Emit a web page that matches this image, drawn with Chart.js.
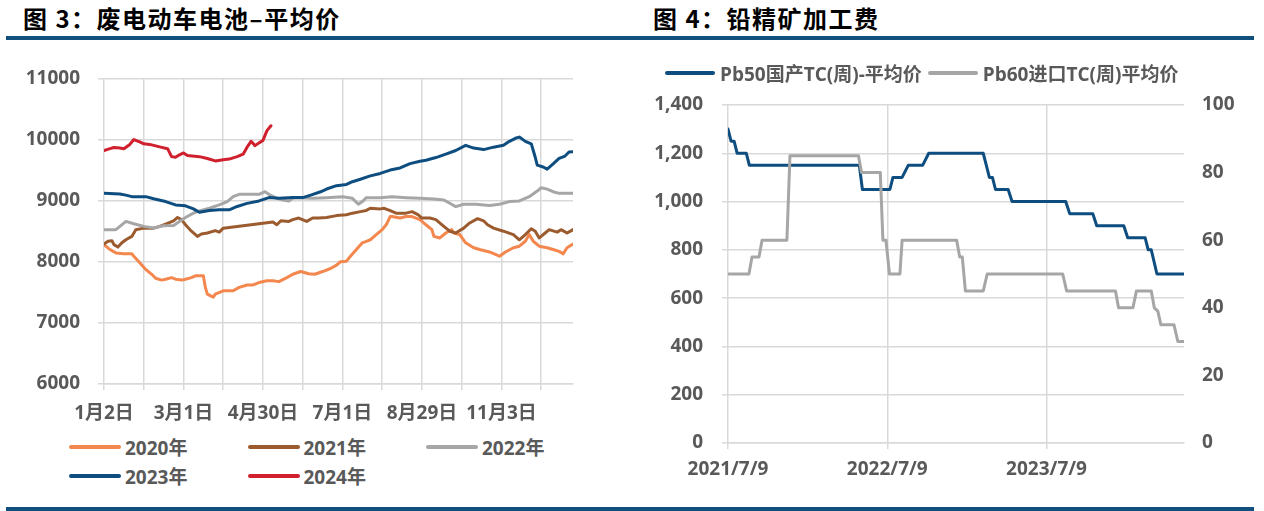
<!DOCTYPE html>
<html>
<head>
<meta charset="utf-8">
<script src="https://cdn.jsdelivr.net/npm/chart.js@4.4.1/dist/chart.umd.min.js"></script>
<style>
body { margin: 0; width: 1264px; height: 511px; overflow: hidden; background: #fff; position: relative; }
.title { position: absolute; top: 6px; font: bold 24px/24px "Noto Sans CJK SC", sans-serif; color: #000; letter-spacing: 1.5px; white-space: nowrap; }
.rule { position: absolute; left: 6px; width: 1248px; height: 4px; background: #114f7c; }
canvas { position: absolute; }
.legend { position: absolute; font: bold 19px "Open Sans", "Noto Sans CJK SC", sans-serif; color: #595959; }
.legend .item { display: flex; align-items: center; white-space: nowrap; height: 29px; }
.legend .swatch { display: inline-block; height: 4px; border-radius: 2px; }
#legL { left: 69px; top: 432px; display: grid; grid-template-columns: repeat(3, 178.5px); }
#legR { left: 665px; top: 58px; display: flex; }
</style>
</head>
<body>
<div class="title" style="left:23px">图 3：废电动车电池–平均价</div>
<div class="title" style="left:653px">图 4：铅精矿加工费</div>
<div class="rule" style="top:36px"></div>
<div class="rule" style="top:507px"></div>

<canvas id="chartL" width="600" height="380" style="left:0;top:49px;width:600px;height:380px"></canvas>
<div class="legend" id="legL"></div>

<canvas id="chartR" width="624" height="455" style="left:640px;top:45px;width:624px;height:455px"></canvas>
<div class="legend" id="legR"></div>

<script>
// ==========================================
// 1. DATA - left chart (trading-day index within year, price)
// ==========================================
const L_GRID = [0, 20, 40, 60, 80, 100, 120, 140, 160, 180, 200, 220];
const L_TICK_POS = [0, 40, 80, 120, 160, 200];
const L_TICK_LABELS = ['1月2日', '3月1日', '4月30日', '7月1日', '8月29日', '11月3日'];
const L_LAST = 236;
const YEAR_NAMES = ['2020年', '2021年', '2022年', '2023年', '2024年'];

const S2020 = [[0,8280],[3,8200],[6,8145],[10,8130],[14,8130],[15,8090],[18,7985],[21,7875],[24,7795],[26,7730],[29,7700],[31,7715],[34,7740],[36,7715],[39,7700],[41,7715],[44,7740],[46,7770],[50,7770],[51,7580],[52,7470],[55,7420],[56,7470],[60,7525],[65,7525],[68,7580],[72,7620],[75,7620],[78,7660],[82,7690],[85,7690],[88,7675],[92,7740],[95,7795],[99,7840],[103,7805],[106,7795],[110,7840],[114,7890],[117,7945],[119,8000],[122,8010],[124,8090],[127,8200],[130,8310],[132,8335],[134,8360],[137,8445],[140,8525],[142,8605],[144,8740],[145,8740],[149,8715],[152,8740],[155,8740],[159,8690],[162,8605],[165,8525],[166,8415],[169,8390],[172,8470],[175,8525],[176,8470],[179,8445],[182,8310],[186,8230],[189,8200],[194,8160],[197,8120],[199,8090],[202,8160],[206,8230],[209,8255],[212,8335],[214,8445],[216,8335],[219,8255],[223,8230],[226,8200],[229,8170],[231,8130],[233,8230],[236,8290]];

const S2021 = [[0,8290],[2,8335],[4,8345],[5,8280],[7,8240],[9,8310],[11,8360],[14,8415],[16,8525],[20,8550],[25,8550],[28,8580],[31,8615],[35,8670],[37,8725],[39,8690],[41,8605],[44,8500],[47,8415],[49,8455],[52,8470],[56,8510],[58,8485],[60,8550],[85,8650],[87,8605],[89,8670],[93,8660],[95,8690],[98,8715],[102,8660],[105,8715],[108,8715],[112,8725],[117,8755],[122,8770],[125,8795],[129,8820],[132,8840],[134,8875],[139,8865],[141,8875],[144,8835],[147,8795],[152,8795],[155,8820],[158,8770],[160,8715],[164,8715],[167,8690],[171,8580],[174,8500],[177,8470],[181,8550],[184,8635],[188,8705],[191,8670],[193,8605],[196,8550],[201,8500],[206,8445],[209,8360],[212,8445],[215,8540],[217,8500],[219,8390],[222,8470],[224,8525],[228,8485],[230,8525],[233,8470],[236,8525]];

const S2022 = [[0,8525],[6,8525],[10,8633],[11,8660],[15,8622],[20,8579],[25,8552],[30,8589],[35,8595],[38,8660],[41,8724],[45,8795],[48,8833],[53,8876],[58,8930],[62,8984],[65,9065],[68,9103],[73,9103],[78,9103],[81,9146],[83,9103],[87,9038],[90,9011],[93,8995],[95,9038],[98,9049],[105,9038],[112,9049],[120,9065],[125,9038],[128,8941],[130,8984],[132,9049],[139,9049],[145,9065],[152,9049],[159,9038],[166,9027],[171,9011],[174,8957],[177,8903],[181,8941],[187,8941],[194,8919],[199,8941],[204,8984],[209,8995],[214,9065],[218,9157],[220,9211],[223,9189],[226,9146],[229,9119],[236,9119]];

const S2023 = [[0,9120],[8,9110],[11,9090],[14,9065],[21,9065],[25,9030],[31,8985],[36,8930],[41,8915],[45,8865],[48,8810],[53,8840],[58,8850],[63,8850],[67,8905],[72,8955],[78,8995],[83,9050],[88,9040],[95,9050],[100,9050],[104,9090],[109,9145],[112,9190],[117,9245],[122,9265],[125,9310],[129,9350],[134,9405],[139,9445],[144,9500],[149,9535],[154,9605],[159,9645],[162,9660],[167,9705],[172,9760],[177,9820],[182,9905],[186,9860],[191,9835],[196,9875],[201,9905],[204,9970],[207,10020],[209,10040],[212,9970],[215,9930],[217,9710],[218,9580],[221,9550],[223,9515],[226,9600],[229,9690],[232,9730],[234,9795],[236,9800]];

const S2024 = [[0,9820],[3,9850],[5,9870],[8,9860],[10,9850],[13,9920],[15,10000],[18,9960],[20,9930],[23,9920],[28,9880],[32,9850],[34,9720],[36,9710],[38,9750],[40,9780],[42,9740],[48,9720],[52,9690],[56,9650],[60,9670],[63,9680],[67,9720],[70,9760],[72,9875],[74,9970],[76,9900],[78,9945],[80,9985],[82,10145],[84,10225]];

// ==========================================
// 2. DATA - right chart (weekly lead concentrate TC)
// ==========================================
const TC_TICK_DATES = ['2021-07-09', '2022-07-09', '2023-07-09'];
const TC_TICK_LABELS = ['2021/7/9', '2022/7/9', '2023/7/9'];
const TC_NAMES = ['Pb50国产TC(周)-平均价', 'Pb60进口TC(周)平均价'];

const PB50_DATES = ['2021-07-09','2021-07-16','2021-07-23','2021-07-30','2021-08-20','2021-08-27','2022-05-06','2022-05-13','2022-07-15','2022-07-22','2022-08-12','2022-08-26','2022-09-28','2022-10-12','2023-02-14','2023-02-28','2023-03-07','2023-03-14','2023-04-12','2023-04-21','2023-08-22','2023-08-31','2023-10-23','2023-11-01','2024-01-02','2024-01-11','2024-02-20','2024-02-27','2024-03-05','2024-03-18','2024-05-19'];
const PB50_VALUES = [1300,1250,1250,1200,1200,1150,1150,1050,1050,1100,1100,1150,1150,1200,1200,1100,1100,1050,1050,1000,1000,950,950,900,900,850,850,800,800,700,700];

const PB60_DATES = ['2021-07-09','2021-08-26','2021-09-02','2021-09-18','2021-09-25','2021-11-21','2021-11-28','2022-05-04','2022-05-11','2022-06-23','2022-06-29','2022-07-06','2022-07-14','2022-08-07','2022-08-12','2022-12-15','2022-12-22','2022-12-28','2023-01-04','2023-02-14','2023-02-23','2023-08-15','2023-08-24','2023-12-14','2023-12-21','2024-01-23','2024-01-31','2024-03-05','2024-03-12','2024-03-20','2024-03-27','2024-04-26','2024-05-05','2024-05-19'];
const PB60_VALUES = [50,50,55,55,60,60,85,85,80,80,60,60,50,50,60,60,55,55,45,45,50,50,45,45,40,40,45,45,40,39,35,35,30,30];

// ==========================================
// 3. STYLE
// ==========================================
const YEAR_COLORS = ['#f4874e', '#9c5b2f', '#a6a6a6', '#0e4d7f', '#d01f2d'];
const TC_COLORS = ['#0e4d7f', '#a6a6a6'];
const GRID = '#d9d9d9';
const TEXT = '#595959';
const TICK_FONT = { family: '"Open Sans", "Noto Sans CJK SC", sans-serif', size: 19, weight: 'bold' };

const DAY_MS = 86400000;
const T0 = Date.parse(TC_TICK_DATES[0]);
const toDay = d => (Date.parse(d) - T0) / DAY_MS;

function lineSet(label, data, color, order) {
    return {
        label: label, data: data, borderColor: color, backgroundColor: color,
        borderWidth: 3, pointRadius: 0, tension: 0, order: order,
        borderJoinStyle: 'round', borderCapStyle: 'round'
    };
}

function buildLegend(el, chart, swatchW, gap, after) {
    chart.data.datasets.forEach(ds => {
        const item = document.createElement('div');
        item.className = 'item';
        item.style.marginRight = after + 'px';
        item.innerHTML = `<span class="swatch" style="width:${swatchW}px;background:${ds.borderColor}"></span>` +
            `<span style="margin-left:${gap}px">${ds.label}</span>`;
        el.appendChild(item);
    });
}

// ==========================================
// 4. CHARTS
// ==========================================
const yearSeries = [S2020, S2021, S2022, S2023, S2024];

const chartL = new Chart(document.getElementById('chartL'), {
    type: 'line',
    data: {
        datasets: yearSeries.map((s, i) =>
            lineSet(YEAR_NAMES[i], s.map(p => ({ x: p[0], y: p[1] })), YEAR_COLORS[i], yearSeries.length - i))
    },
    options: {
        responsive: false,
        animation: false,
        layout: { padding: { top: 26, right: 27, left: 0, bottom: 0 } },
        plugins: { legend: { display: false }, tooltip: { enabled: false } },
        scales: {
            x: {
                type: 'linear', min: 0, max: L_LAST,
                afterBuildTicks: s => { s.ticks = L_GRID.map(v => ({ value: v })); },
                afterFit: s => { s.height = 45; },
                grid: { color: GRID, lineWidth: 1.5, tickLength: 6 },
                border: { color: GRID, width: 1.5 },
                ticks: {
                    autoSkip: false, maxRotation: 0, padding: 12, color: TEXT, font: TICK_FONT,
                    callback: v => { const k = L_TICK_POS.indexOf(v); return k < 0 ? '' : L_TICK_LABELS[k]; }
                }
            },
            y: {
                min: 6000, max: 11000,
                afterFit: s => { s.width = 104; },
                grid: { color: GRID, lineWidth: 1.5, tickLength: 6 },
                border: { display: false },
                ticks: { stepSize: 1000, padding: 18, color: TEXT, font: TICK_FONT, callback: v => String(v) }
            }
        }
    }
});

const pb50 = PB50_DATES.map((d, i) => ({ x: toDay(d), y: PB50_VALUES[i] }));
const pb60 = PB60_DATES.map((d, i) => ({ x: toDay(d), y: PB60_VALUES[i] }));
const TC_TICKS = TC_TICK_DATES.map(toDay);

const chartR = new Chart(document.getElementById('chartR'), {
    type: 'line',
    data: {
        datasets: [
            Object.assign(lineSet(TC_NAMES[0], pb50, TC_COLORS[0], 1), { yAxisID: 'y' }),
            Object.assign(lineSet(TC_NAMES[1], pb60, TC_COLORS[1], 0), { yAxisID: 'y1' })
        ]
    },
    options: {
        responsive: false,
        animation: false,
        layout: { padding: { top: 60, right: 0, left: 0, bottom: 0 } },
        plugins: { legend: { display: false }, tooltip: { enabled: false } },
        scales: {
            x: {
                type: 'linear', min: 0, max: toDay(PB50_DATES[PB50_DATES.length - 1]),
                afterBuildTicks: s => { s.ticks = TC_TICKS.map(v => ({ value: v })); },
                afterFit: s => { s.height = 57; },
                grid: { color: GRID, lineWidth: 1.5, tickLength: 6 },
                border: { color: GRID, width: 1.5 },
                ticks: {
                    autoSkip: false, maxRotation: 0, padding: 9, color: TEXT, font: TICK_FONT,
                    callback: v => { const k = TC_TICKS.indexOf(v); return k < 0 ? '' : TC_TICK_LABELS[k]; }
                }
            },
            y: {
                position: 'left', min: 0, max: 1400,
                afterFit: s => { s.width = 88; },
                grid: { color: GRID, lineWidth: 1.5, tickLength: 6 },
                border: { display: false },
                ticks: { stepSize: 200, padding: 19, color: TEXT, font: TICK_FONT, callback: v => v.toLocaleString('en-US') }
            },
            y1: {
                position: 'right', min: 0, max: 100,
                afterFit: s => { s.width = 80; },
                grid: { display: false, drawTicks: false },
                border: { display: false },
                ticks: { stepSize: 20, padding: 18, color: TEXT, font: TICK_FONT }
            }
        }
    }
});

buildLegend(document.getElementById('legL'), chartL, 52, 4, 0);
buildLegend(document.getElementById('legR'), chartR, 50, 5, 6);
</script>
</body>
</html>
